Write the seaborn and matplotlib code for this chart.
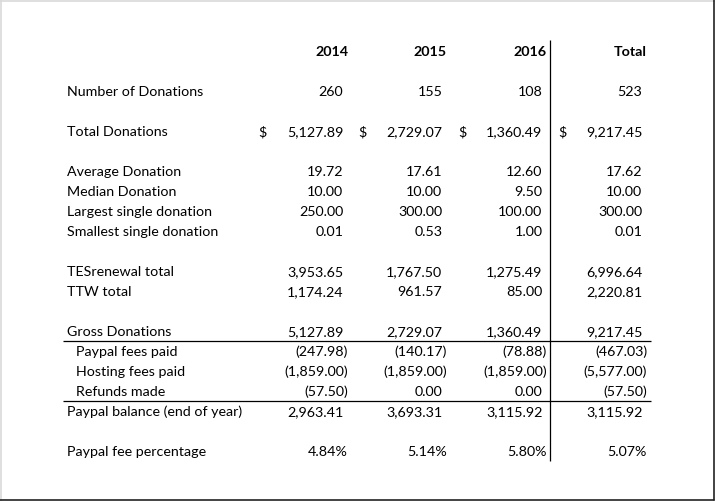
#!/usr/bin/env python3

import matplotlib.pyplot as plt
import seaborn as sns

# table content
years = ["2014", "2015", "2016", "Total"]

row_labels = [
    "Number of Donations",
    "Total Donations",
    "Average Donation",
    "Median Donation",
    "Largest single donation",
    "Smallest single donation",
    "TESrenewal total",
    "TTW total",
    "Gross Donations",
    "Paypal fees paid",
    "Hosting fees paid",
    "Refunds made",
    "Paypal balance (end of year)",
    "Paypal fee percentage",
]

n_donations = [260, 155, 108, 523]
total_donations = [5127.89, 2729.07, 1360.49, 9217.45]
average_donation = [19.72, 17.61, 12.60, 17.62]
median_donation = [10.00, 10.00, 9.50, 10.00]
largest_donation = [250.00, 300.00, 100.00, 300.00]
smallest_donation = [0.01, 0.53, 1.00, 0.01]
tes_total = [3953.65, 1767.50, 1275.49, 6996.64]
ttw_total = [1174.24, 961.57, 85.00, 2220.81]
gross_donations = [5127.89, 2729.07, 1360.49, 9217.45]
paypal_fees = [-247.98, -140.17, -78.88, -467.03]
hosting_fees = [-1859.00, -1859.00, -1859.00, -5577.00]
refunds = [-57.50, 0.00, 0.00, -57.50]
paypal_balance = [2963.41, 3693.31, 3115.92, 3115.92]
fee_pct = [4.84, 5.14, 5.80, 5.07]

row_values = [
    n_donations, total_donations, average_donation, median_donation,
    largest_donation, smallest_donation, tes_total, ttw_total,
    gross_donations, paypal_fees, hosting_fees, refunds, paypal_balance,
    fee_pct,
]
row_kind = ["int", "dollar", "num", "num", "num", "num", "num", "num",
            "num", "num", "num", "num", "num", "pct"]
indented = {"Paypal fees paid", "Hosting fees paid", "Refunds made"}

# layout (pixels)
row_base = [96, 136, 176, 196, 216, 236, 276, 296, 336, 356, 376, 396, 416, 456]
header_base = 56
col_right = [348, 447, 547, 647]
dollar_left = [258, 358, 458, 558]
pad = 4.6

sns.set_theme(style="white")
plt.rcParams["font.family"] = ["Lato", "DejaVu Sans"]
FS = 10.25

fig = plt.figure(figsize=(7.15, 5.01), dpi=100)
ax = fig.add_axes([0, 0, 1, 1])
ax.set_xlim(0, 715)
ax.set_ylim(501, 0)
ax.axis("off")


def fmt(v, kind):
    if kind == "int":
        return f"{v:d}", False
    if kind == "pct":
        return f"{v:.2f}%", True
    if v < 0:
        return f"({abs(v):,.2f})", True
    return f"{v:,.2f}", False


for j, y in enumerate(years):
    ax.text(col_right[j], header_base, y, ha="right", va="baseline",
            fontsize=FS, fontweight="bold", color="black")

for label, vals, kind, yb in zip(row_labels, row_values, row_kind, row_base):
    x0 = 76 if label in indented else 67
    ax.text(x0, yb, label, ha="left", va="baseline", fontsize=FS, color="black")
    for j, v in enumerate(vals):
        s, full = fmt(v, kind)
        xr = col_right[j] if full else col_right[j] - pad
        ax.text(xr, yb, s, ha="right", va="baseline", fontsize=FS, color="black")
        if kind == "dollar":
            ax.text(dollar_left[j], yb, "$", ha="left", va="baseline",
                    fontsize=FS, color="black")

lw = 0.9
ax.plot([550, 550], [40, 461], color="black", lw=lw, solid_capstyle="butt")
ax.plot([63, 651], [341, 341], color="black", lw=lw, solid_capstyle="butt")
ax.plot([63, 651], [401, 401], color="black", lw=lw, solid_capstyle="butt")

# frame
ax.plot([0.5, 0.5], [0, 501], color="#d9d9d9", lw=1.2)
ax.plot([0, 715], [0.5, 0.5], color="#d9d9d9", lw=1.2)
ax.plot([713.5, 713.5], [0, 500], color="#222222", lw=1.2)
ax.plot([0, 714], [499.5, 499.5], color="#222222", lw=1.2)

fig.savefig("out.png", dpi=100)
plt.close(fig)
